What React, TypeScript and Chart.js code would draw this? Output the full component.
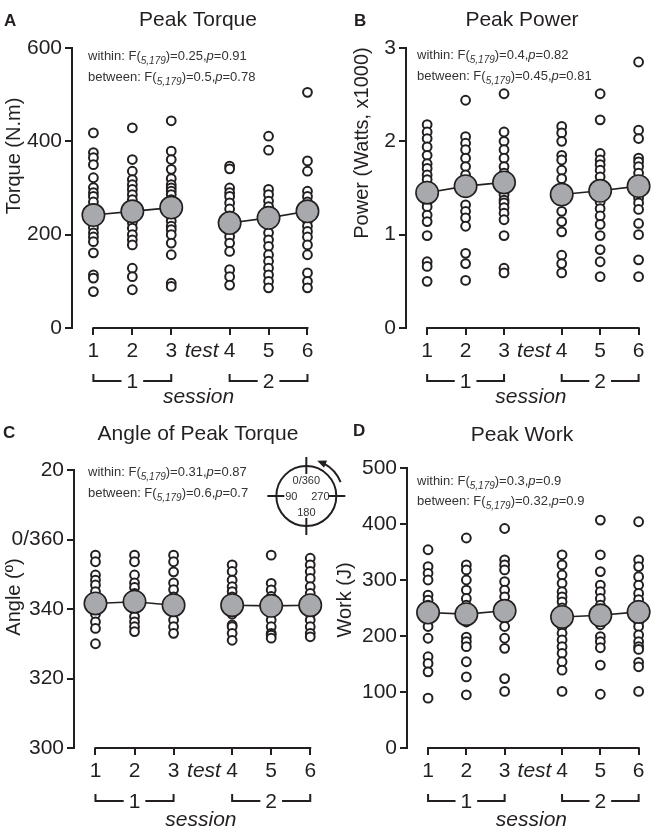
import React, { useEffect, useRef } from "react";
import { Chart, registerables } from "chart.js";
Chart.register(...registerables);

const FONT = "'Liberation Sans', Arial, Helvetica, sans-serif";
const INK = "#231f20";
const MEAN_FILL = "#a7a9ac";

// x positions of the six tests (gap between sessions)
const TEST_POS = [1, 2, 3, 4.5, 5.5, 6.5];
const TEST_LABELS = ["1", "2", "3", "4", "5", "6"];
const TEST_WORD = "test";
const TEST_WORD_POS = 3.78;
const SESSION_LABELS = ["1", "2"];
const SESSION_WORD = "session";
const STATS_DF = "5,179";

// ---------- Panel A: Peak Torque (N.m)
const TORQUE_TICKS = [0, 200, 400, 600];
const TORQUE_T1 = [418, 376, 365, 350, 322, 301, 290, 282, 270, 255, 243, 230, 215, 204, 195, 185, 161, 114, 107, 78];
const TORQUE_T2 = [429, 361, 336, 318, 307, 297, 286, 275, 262, 240, 226, 214, 200, 189, 178, 128, 110, 82];
const TORQUE_T3 = [444, 379, 361, 340, 320, 307, 300, 293, 286, 275, 268, 248, 240, 229, 218, 211, 200, 182, 157, 96, 89];
const TORQUE_T4 = [347, 341, 300, 290, 282, 268, 255, 240, 211, 196, 182, 164, 125, 110, 92];
const TORQUE_T5 = [411, 381, 297, 286, 272, 260, 250, 220, 204, 189, 175, 157, 143, 128, 114, 100, 86];
const TORQUE_T6 = [505, 358, 336, 293, 282, 270, 260, 240, 229, 218, 207, 195, 178, 157, 118, 100, 86];
const TORQUE_MEANS = [242, 250, 258, 225, 236, 250];
const TORQUE_WITHIN = ["0.25", "0.91"];
const TORQUE_BETWEEN = ["0.5", "0.78"];

// ---------- Panel B: Peak Power (Watts x1000)
const POWER_TICKS = [0, 1, 2, 3];
const POWER_T1 = [2.18, 2.1, 2.03, 1.94, 1.85, 1.76, 1.71, 1.64, 1.59, 1.52, 1.4, 1.35, 1.3, 1.21, 1.14, 0.99, 0.71, 0.66, 0.5];
const POWER_T2 = [2.44, 2.05, 1.98, 1.91, 1.82, 1.73, 1.64, 1.58, 1.45, 1.32, 1.25, 1.18, 1.09, 0.8, 0.69, 0.51];
const POWER_T3 = [2.51, 2.1, 2.0, 1.91, 1.82, 1.73, 1.66, 1.5, 1.43, 1.37, 1.34, 1.29, 1.23, 1.16, 0.99, 0.64, 0.59];
const POWER_T4 = [2.16, 2.09, 2.0, 1.85, 1.8, 1.69, 1.6, 1.5, 1.37, 1.25, 1.14, 1.03, 0.78, 0.69, 0.59];
const POWER_T5 = [2.51, 2.23, 1.87, 1.8, 1.75, 1.69, 1.62, 1.4, 1.35, 1.28, 1.2, 1.11, 0.99, 0.84, 0.71, 0.55];
const POWER_T6 = [2.85, 2.12, 2.03, 1.82, 1.78, 1.73, 1.66, 1.58, 1.39, 1.34, 1.27, 1.12, 1.0, 0.73, 0.55];
const POWER_MEANS = [1.45, 1.52, 1.56, 1.43, 1.47, 1.52];
const POWER_WITHIN = ["0.4", "0.82"];
const POWER_BETWEEN = ["0.45", "0.81"];

// ---------- Panel C: Angle of Peak Torque (deg)
const ANGLE_TICKS = [300, 320, 340, 360, 380];
const ANGLE_TICK_LABELS = ["300", "320", "340", "0/360", "20"];
const ANGLE_T1 = [355.5, 353.6, 349.8, 348.3, 346.9, 345, 343, 340, 338.5, 336.3, 334.4, 330];
const ANGLE_T2 = [355.5, 353.6, 349.8, 347.5, 346.2, 344.5, 343, 340, 337.8, 336.3, 334.9, 333.5];
const ANGLE_T3 = [355.5, 353.6, 350.7, 347.5, 345.6, 343.5, 339, 336.8, 334.9, 333];
const ANGLE_T4 = [352.7, 350.8, 348.3, 346.4, 345, 343.5, 338.5, 335.4, 334.9, 333, 331];
const ANGLE_T5 = [355.5, 347.4, 345.5, 343.6, 338.5, 336.8, 334.9, 333, 332.5, 331.6];
const ANGLE_T6 = [354.6, 352.7, 350.8, 348.8, 346.4, 344.5, 338.5, 336.8, 334.9, 333, 332];
const ANGLE_MEANS = [341.6, 342.1, 341.1, 341.1, 340.9, 341.1];
const ANGLE_WITHIN = ["0.31", "0.87"];
const ANGLE_BETWEEN = ["0.6", "0.7"];
const DIAL_LABELS = ["0/360", "90", "270", "180"];

// ---------- Panel D: Peak Work (J)
const WORK_TICKS = [0, 100, 200, 300, 400, 500];
const WORK_T1 = [354, 324, 312, 300, 273, 264, 255, 230, 217, 196, 163, 151, 136, 89];
const WORK_T2 = [375, 327, 318, 300, 282, 267, 255, 225, 198, 190, 181, 154, 127, 95];
const WORK_T3 = [392, 336, 327, 318, 297, 282, 270, 230, 217, 196, 178, 124, 101];
const WORK_T4 = [345, 327, 309, 294, 279, 270, 261, 250, 220, 217, 205, 193, 181, 169, 154, 139, 101];
const WORK_T5 = [407, 345, 315, 291, 279, 267, 255, 220, 199, 190, 179, 148, 96];
const WORK_T6 = [404, 336, 324, 306, 291, 276, 265, 255, 225, 217, 202, 190, 181, 176, 153, 145, 101];
const WORK_MEANS = [242, 239, 245, 234, 237, 243];
const WORK_WITHIN = ["0.3", "0.9"];
const WORK_BETWEEN = ["0.32", "0.9"];

const H = 416;

const PANELS = [
  {
    key: "A", title: "Peak Torque", yTitle: "Torque (N.m)",
    left: 0, top: 0, width: 330,
    chartTop: 48, chartBottom: 328, yWidth: 72, padRight: 10,
    ticks: TORQUE_TICKS, tickLabels: null as string[] | null,
    values: [TORQUE_T1, TORQUE_T2, TORQUE_T3, TORQUE_T4, TORQUE_T5, TORQUE_T6],
    means: TORQUE_MEANS, within: TORQUE_WITHIN, between: TORQUE_BETWEEN,
    letterPos: [4, 21], titlePos: [198, 20], yTitlePos: [14, 156], statsPos: [88, 60, 81], sessionDy: 69,
    dial: false,
  },
  {
    key: "B", title: "Peak Power", yTitle: "Power (Watts, x1000)",
    left: 330, top: 0, width: 331,
    chartTop: 48, chartBottom: 328, yWidth: 76, padRight: 7,
    ticks: POWER_TICKS, tickLabels: null,
    values: [POWER_T1, POWER_T2, POWER_T3, POWER_T4, POWER_T5, POWER_T6],
    means: POWER_MEANS, within: POWER_WITHIN, between: POWER_BETWEEN,
    letterPos: [24, 21], titlePos: [192, 20], yTitlePos: [32, 143], statsPos: [87, 59, 80], sessionDy: 69,
    dial: false,
  },
  {
    key: "C", title: "Angle of Peak Torque", yTitle: "Angle (º)",
    left: 0, top: 416, width: 370,
    chartTop: 54, chartBottom: 332, yWidth: 74, padRight: 50,
    ticks: ANGLE_TICKS, tickLabels: ANGLE_TICK_LABELS,
    values: [ANGLE_T1, ANGLE_T2, ANGLE_T3, ANGLE_T4, ANGLE_T5, ANGLE_T6],
    means: ANGLE_MEANS, within: ANGLE_WITHIN, between: ANGLE_BETWEEN,
    letterPos: [3, 17], titlePos: [198, 18], yTitlePos: [14, 181], statsPos: [88, 60, 81], sessionDy: 72,
    dial: true,
  },
  {
    key: "D", title: "Peak Work", yTitle: "Work (J)",
    left: 330, top: 416, width: 331,
    chartTop: 52, chartBottom: 332, yWidth: 77, padRight: 6,
    ticks: WORK_TICKS, tickLabels: null,
    values: [WORK_T1, WORK_T2, WORK_T3, WORK_T4, WORK_T5, WORK_T6],
    means: WORK_MEANS, within: WORK_WITHIN, between: WORK_BETWEEN,
    letterPos: [23, 15], titlePos: [192, 19], yTitlePos: [15, 184], statsPos: [87, 69, 89], sessionDy: 72,
    dial: false,
  },
];

type Panel = typeof PANELS[number];

function drawStatsLine(ctx: CanvasRenderingContext2D, x: number, y: number, name: string, vals: string[]) {
  let cx = x;
  const seg = (text: string, font: string, dy = 0) => {
    ctx.font = font;
    ctx.fillText(text, cx, y + dy);
    cx += ctx.measureText(text).width;
  };
  seg(`${name}: F(`, `13px ${FONT}`);
  seg(STATS_DF, `italic 10px ${FONT}`, 4);
  seg(`)=${vals[0]},`, `13px ${FONT}`);
  seg("p", `italic 13px ${FONT}`);
  seg(`=${vals[1]}`, `13px ${FONT}`);
}

function decorPlugin(p: Panel) {
  return {
    id: "decor" + p.key,
    afterDraw(chart: any) {
      const { ctx, chartArea, scales } = chart;
      const xs = scales.x;
      const ys = scales.y;
      ctx.save();
      ctx.fillStyle = INK;
      ctx.strokeStyle = INK;

      // panel letter
      ctx.textAlign = "left";
      ctx.textBaseline = "middle";
      ctx.font = `bold 17px ${FONT}`;
      ctx.fillText(p.key, p.letterPos[0], p.letterPos[1]);

      // title
      ctx.textAlign = "center";
      ctx.font = `21px ${FONT}`;
      ctx.fillText(p.title, p.titlePos[0], p.titlePos[1]);

      // y title
      ctx.save();
      ctx.translate(p.yTitlePos[0], p.yTitlePos[1]);
      ctx.rotate(-Math.PI / 2);
      ctx.font = `20px ${FONT}`;
      ctx.textAlign = "center";
      ctx.textBaseline = "middle";
      ctx.fillText(p.yTitle, 0, 0);
      ctx.restore();

      // stats
      ctx.textAlign = "left";
      ctx.textBaseline = "alphabetic";
      ctx.fillStyle = "#333";
      drawStatsLine(ctx, p.statsPos[0], p.statsPos[1], "within", p.within);
      drawStatsLine(ctx, p.statsPos[0], p.statsPos[2], "between", p.between);
      ctx.fillStyle = INK;

      // x axis line (from test 1 to test 6)
      const xb = chartArea.bottom;
      ctx.lineWidth = 2;
      ctx.beginPath();
      ctx.moveTo(xs.getPixelForValue(TEST_POS[0]) - 1, xb);
      ctx.lineTo(xs.getPixelForValue(TEST_POS[5]) + 1, xb);
      ctx.stroke();

      // session brackets
      ctx.font = `21px ${FONT}`;
      ctx.textAlign = "center";
      ctx.textBaseline = "middle";
      const by = xb + 53;
      const groups = [[TEST_POS[0], TEST_POS[2]], [TEST_POS[3], TEST_POS[5]]];
      groups.forEach((g, i) => {
        const x1 = xs.getPixelForValue(g[0]);
        const x2 = xs.getPixelForValue(g[1]);
        const xm = (x1 + x2) / 2;
        const half = ctx.measureText(SESSION_LABELS[i]).width / 2 + 5;
        ctx.lineWidth = 2;
        ctx.beginPath();
        ctx.moveTo(x1, by - 7);
        ctx.lineTo(x1, by);
        ctx.lineTo(xm - half, by);
        ctx.moveTo(xm + half, by);
        ctx.lineTo(x2, by);
        ctx.lineTo(x2, by - 7);
        ctx.stroke();
        ctx.fillText(SESSION_LABELS[i], xm, by + 1);
      });
      ctx.font = `italic 21px ${FONT}`;
      ctx.fillText(SESSION_WORD, xs.getPixelForValue(3.7), xb + p.sessionDy);

      // dial inset (panel C)
      if (p.dial) {
        const cx = xs.getPixelForValue(6.4);
        const cy = ys.getPixelForValue(372.5);
        const r = 30;
        const deg = Math.PI / 180;
        ctx.lineWidth = 2;
        ctx.beginPath();
        ctx.arc(cx, cy, r, 0, Math.PI * 2);
        ctx.stroke();
        ctx.beginPath();
        ctx.moveTo(cx, cy - r - 9); ctx.lineTo(cx, cy - r + 8);
        ctx.moveTo(cx, cy + r - 8); ctx.lineTo(cx, cy + r + 9);
        ctx.moveTo(cx - r - 9, cy); ctx.lineTo(cx - r + 8, cy);
        ctx.moveTo(cx + r - 8, cy); ctx.lineTo(cx + r + 9, cy);
        ctx.stroke();
        const R = 37;
        const a0 = -68 * deg;
        ctx.beginPath();
        ctx.arc(cx, cy, R, a0 + 6 * deg, -22 * deg);
        ctx.stroke();
        // arrowhead pointing counter-clockwise at the top end
        const hx = cx + R * Math.cos(a0 + 6 * deg);
        const hy = cy + R * Math.sin(a0 + 6 * deg);
        const tx = Math.sin(a0), ty = -Math.cos(a0);
        const nx = Math.cos(a0), ny = Math.sin(a0);
        ctx.beginPath();
        ctx.moveTo(hx + tx * 7, hy + ty * 7);
        ctx.lineTo(hx - tx * 2 + nx * 4, hy - ty * 2 + ny * 4);
        ctx.lineTo(hx - tx * 2 - nx * 4, hy - ty * 2 - ny * 4);
        ctx.closePath();
        ctx.fill();
        ctx.font = `11px ${FONT}`;
        ctx.fillStyle = "#333";
        ctx.textAlign = "center";
        ctx.textBaseline = "middle";
        ctx.fillText(DIAL_LABELS[0], cx, cy - 15);
        ctx.fillText(DIAL_LABELS[1], cx - 15, cy + 1);
        ctx.fillText(DIAL_LABELS[2], cx + 14, cy + 1);
        ctx.fillText(DIAL_LABELS[3], cx, cy + 17);
      }
      ctx.restore();
    },
  };
}

function makeConfig(p: Panel): any {
  const pts: { x: number; y: number }[] = [];
  p.values.forEach((col, i) => col.forEach((v) => pts.push({ x: TEST_POS[i], y: v })));
  const m1 = [0, 1, 2].map((i) => ({ x: TEST_POS[i], y: p.means[i] }));
  const m2 = [3, 4, 5].map((i) => ({ x: TEST_POS[i], y: p.means[i] }));
  const meanDs = (data: any) => ({
    data,
    showLine: true,
    borderColor: INK,
    borderWidth: 1.6,
    pointRadius: 11.2,
    pointBackgroundColor: MEAN_FILL,
    pointBorderColor: INK,
    pointBorderWidth: 1.6,
    order: 0,
    clip: false,
  });
  const xTicks = [...TEST_POS.slice(0, 3), TEST_WORD_POS, ...TEST_POS.slice(3)];
  const isWord = (ctx: any) => ctx && ctx.tick && ctx.tick.value === TEST_WORD_POS;
  const yMin = p.ticks[0];
  const yMax = p.ticks[p.ticks.length - 1];
  return {
    type: "scatter",
    data: {
      datasets: [
        meanDs(m1),
        meanDs(m2),
        {
          data: pts,
          pointRadius: 4.4,
          pointBorderWidth: 2,
          pointBackgroundColor: "#ffffff",
          pointBorderColor: INK,
          order: 1,
          clip: false,
        },
      ],
    },
    options: {
      animation: false,
      responsive: false,
      events: [],
      layout: { padding: { left: 0, right: p.padRight, top: p.chartTop, bottom: 0 } },
      plugins: { legend: { display: false }, tooltip: { enabled: false }, title: { display: false } },
      scales: {
        x: {
          type: "linear",
          min: 0.45,
          max: 6.75,
          afterBuildTicks: (s: any) => {
            s.ticks = xTicks.map((v) => ({ value: v }));
          },
          afterFit: (s: any) => {
            s.height = H - p.chartBottom;
          },
          border: { display: false },
          grid: {
            drawOnChartArea: false,
            drawTicks: true,
            tickLength: 7,
            lineWidth: 2,
            color: (ctx: any) => (isWord(ctx) ? "rgba(0,0,0,0)" : INK),
            tickColor: (ctx: any) => (isWord(ctx) ? "rgba(0,0,0,0)" : INK),
          },
          ticks: {
            autoSkip: false,
            maxRotation: 0,
            padding: 4,
            color: INK,
            font: (ctx: any) => ({ family: FONT, size: 21, style: isWord(ctx) ? "italic" : "normal" }),
            callback: (v: number) => {
              if (v === TEST_WORD_POS) return TEST_WORD;
              const i = TEST_POS.indexOf(v);
              return i >= 0 ? TEST_LABELS[i] : "";
            },
          },
        },
        y: {
          type: "linear",
          min: yMin,
          max: yMax,
          afterBuildTicks: (s: any) => {
            s.ticks = p.ticks.map((v) => ({ value: v }));
          },
          afterFit: (s: any) => {
            s.width = p.yWidth;
          },
          border: { display: true, width: 2, color: INK },
          grid: { drawOnChartArea: false, drawTicks: true, tickLength: 7, lineWidth: 2, color: INK },
          ticks: {
            padding: 3,
            color: INK,
            font: { family: FONT, size: 21 },
            callback: (v: number) => {
              const i = p.ticks.indexOf(v);
              if (p.tickLabels && i >= 0) return p.tickLabels[i];
              return String(v);
            },
          },
        },
      },
    },
    plugins: [decorPlugin(p)],
  };
}

function PanelChart({ p }: { p: Panel }) {
  const ref = useRef<HTMLCanvasElement | null>(null);
  useEffect(() => {
    if (!ref.current) return;
    const chart = new Chart(ref.current, makeConfig(p));
    return () => chart.destroy();
  }, [p]);
  return (
    <canvas
      ref={ref}
      width={p.width}
      height={H}
      style={{ position: "absolute", left: p.left, top: p.top, width: p.width, height: H }}
    />
  );
}

export default function App() {
  return (
    <div style={{ position: "absolute", left: 0, top: 0, width: 661, height: 832, background: "#ffffff" }}>
      {PANELS.map((p) => (
        <PanelChart key={p.key} p={p} />
      ))}
    </div>
  );
}
